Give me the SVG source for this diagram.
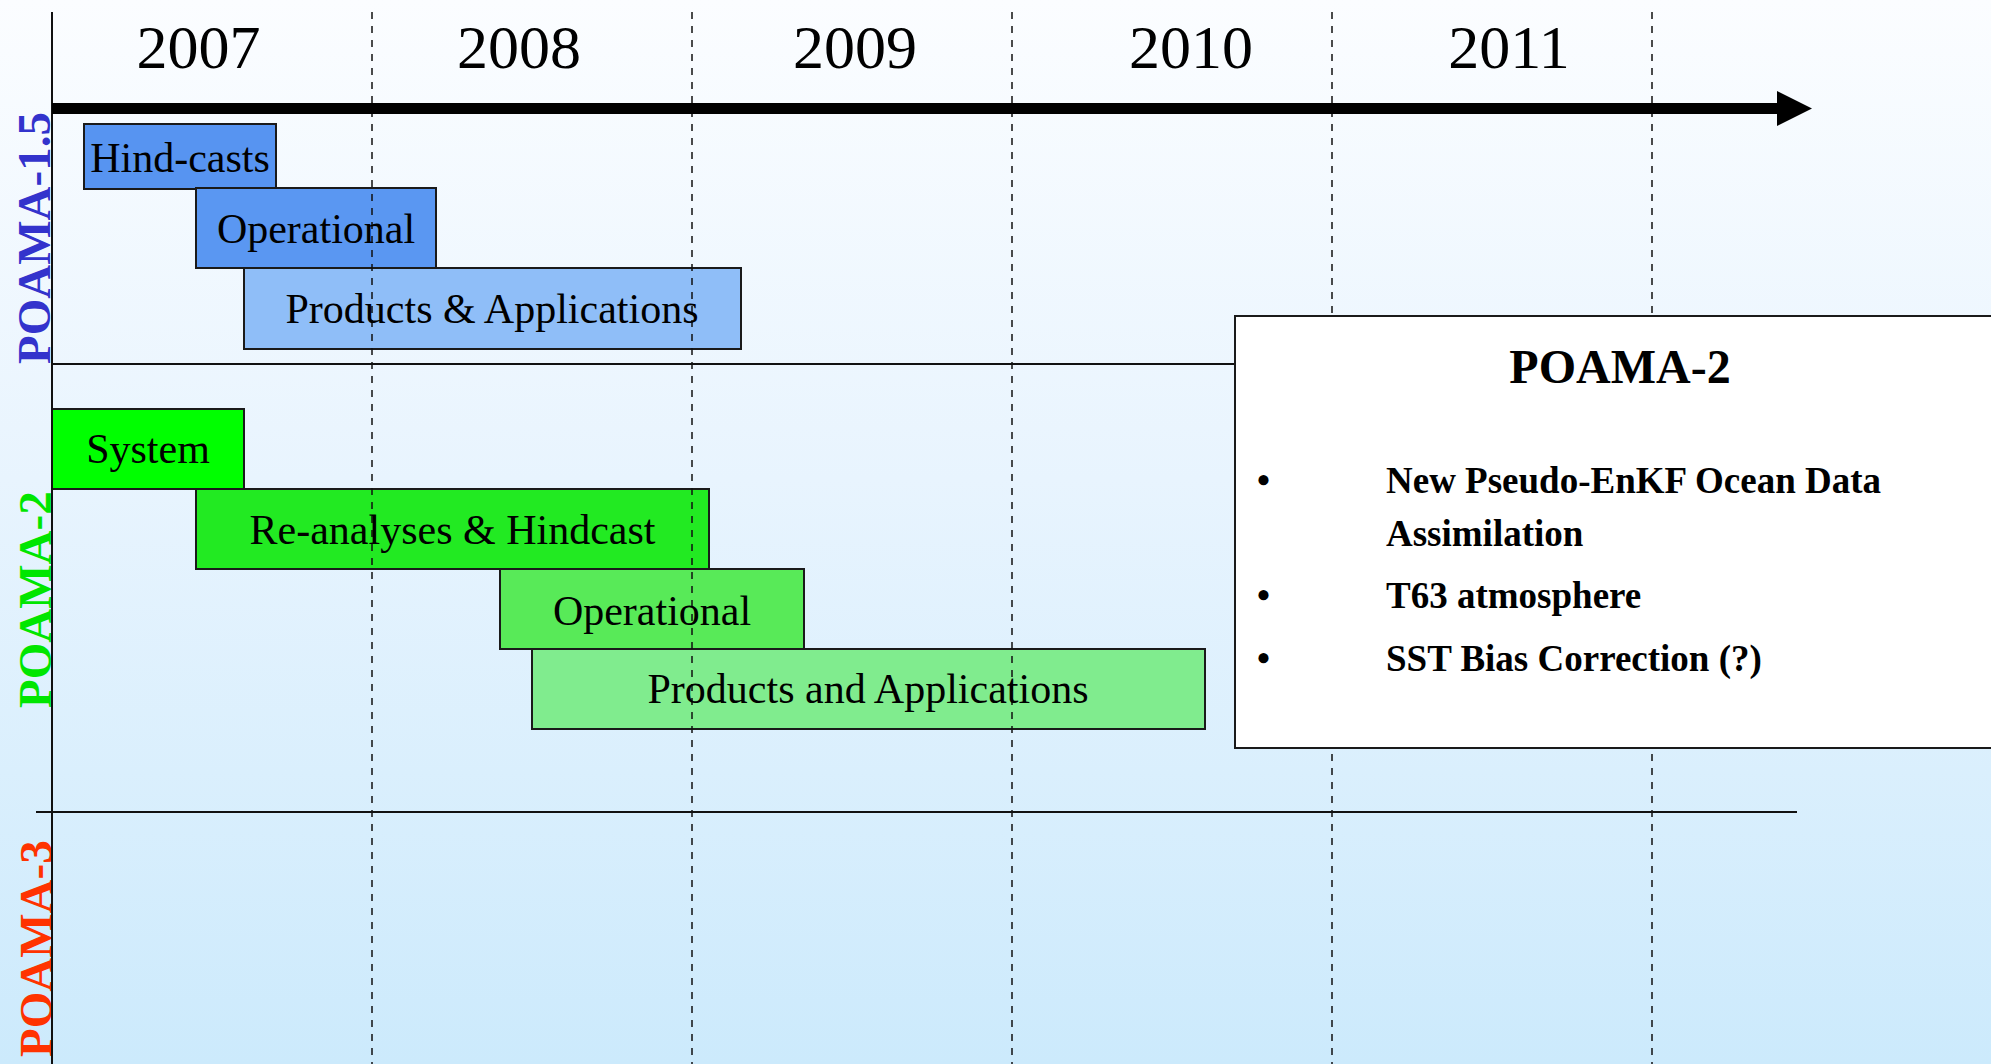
<svg xmlns="http://www.w3.org/2000/svg" width="1991" height="1064" viewBox="0 0 1991 1064">
  <defs>
    <linearGradient id="bg" x1="0" y1="0" x2="0" y2="1">
      <stop offset="0" stop-color="#FBFDFF"/>
      <stop offset="0.45" stop-color="#E8F4FE"/>
      <stop offset="1" stop-color="#CCEAFC"/>
    </linearGradient>
    <style>
      .yr { font-family: "Liberation Serif", "Times New Roman", serif; font-size: 62px; fill: #000; text-anchor: middle; }
      .lbl { font-family: "Liberation Serif", "Times New Roman", serif; font-size: 42px; fill: #000; text-anchor: middle; }
      .side { font-family: "Liberation Serif", "Times New Roman", serif; font-size: 47px; font-weight: bold; }
      .bx { stroke: #1a1a1a; stroke-width: 2; }
      .dash { stroke: #111; stroke-width: 1.5; stroke-dasharray: 7 7; fill: none; }
      .sep { stroke: #111; stroke-width: 2; fill: none; }
      .info { font-family: "Liberation Serif", "Times New Roman", serif; font-size: 37px; font-weight: bold; fill: #000; }
      .title { font-family: "Liberation Serif", "Times New Roman", serif; font-size: 48px; font-weight: bold; fill: #000; text-anchor: middle; }
    </style>
  </defs>

  <rect x="0" y="0" width="1991" height="1064" fill="url(#bg)"/>

  <!-- year labels -->
  <g id="years">
    <text class="yr" x="198.5" y="68">2007</text>
    <text class="yr" x="519" y="68">2008</text>
    <text class="yr" x="855" y="68">2009</text>
    <text class="yr" x="1191" y="68">2010</text>
    <text class="yr" x="1509" y="68">2011</text>
  </g>

  <!-- section labels -->
  <g id="section-labels">
    <text class="side" fill="#3333CC" transform="translate(50,364) rotate(-90)">POAMA-1.5</text>
    <text class="side" fill="#00E600" transform="translate(51,708) rotate(-90)">POAMA-2</text>
    <text class="side" fill="#FF3300" transform="translate(52,1057) rotate(-90)">POAMA-3</text>
  </g>

  <!-- bars -->
  <g id="p15-hindcasts">
    <rect class="bx" x="84" y="124" width="192" height="65" fill="#5794F1"/>
  </g>
  <g id="p15-operational">
    <rect class="bx" x="196" y="188" width="240" height="80" fill="#5A97F2"/>
  </g>
  <g id="p15-products">
    <rect class="bx" x="244" y="268" width="497" height="81" fill="#8FBEF8"/>
  </g>
  <g id="p2-system">
    <rect class="bx" x="52" y="409" width="192" height="80" fill="#00FF00"/>
  </g>
  <g id="p2-reanalyses">
    <rect class="bx" x="196" y="489" width="513" height="80" fill="#22EA22"/>
  </g>
  <g id="p2-operational">
    <rect class="bx" x="500" y="569" width="304" height="80" fill="#58EA58"/>
  </g>
  <g id="p2-products">
    <rect class="bx" x="532" y="649" width="673" height="80" fill="#80EC8E"/>
  </g>

  <!-- connectors / axes -->
  <g id="connectors">
    <line class="dash" x1="372" y1="12" x2="372" y2="1064"/>
    <line class="dash" x1="692" y1="12" x2="692" y2="1064"/>
    <line class="dash" x1="1012" y1="12" x2="1012" y2="1064"/>
    <line class="dash" x1="1332" y1="12" x2="1332" y2="1064"/>
    <line class="dash" x1="1652" y1="12" x2="1652" y2="1064"/>
    <line class="sep" x1="52" y1="12" x2="52" y2="1064"/>
    <line class="sep" x1="52" y1="364" x2="1236" y2="364"/>
    <line class="sep" x1="36" y1="812" x2="1797" y2="812"/>
    <rect x="52" y="103" width="1726" height="11" fill="#000"/>
    <polygon points="1777,91 1812,108.5 1777,126" fill="#000"/>
  </g>

  <!-- bar labels -->
  <g id="bar-labels">
    <text class="lbl" x="180" y="172">Hind-casts</text>
    <text class="lbl" x="316" y="243">Operational</text>
    <text class="lbl" x="492" y="323">Products &amp; Applications</text>
    <text class="lbl" x="148" y="463">System</text>
    <text class="lbl" x="452.5" y="544">Re-analyses &amp; Hindcast</text>
    <text class="lbl" x="652" y="625">Operational</text>
    <text class="lbl" x="868" y="703">Products and Applications</text>
  </g>

  <!-- POAMA-2 info box -->
  <g id="poama2-info">
    <rect x="1235" y="316" width="770" height="432" fill="#FFFFFF" stroke="#1a1a1a" stroke-width="2"/>
    <text class="title" x="1620" y="383">POAMA-2</text>
    <text class="info" x="1257" y="493">•</text>
    <text class="info" x="1386" y="493">New Pseudo-EnKF Ocean Data</text>
    <text class="info" x="1386" y="546">Assimilation</text>
    <text class="info" x="1257" y="608">•</text>
    <text class="info" x="1386" y="608">T63 atmosphere</text>
    <text class="info" x="1257" y="671">•</text>
    <text class="info" x="1386" y="671">SST Bias Correction (?)</text>
  </g>
</svg>
